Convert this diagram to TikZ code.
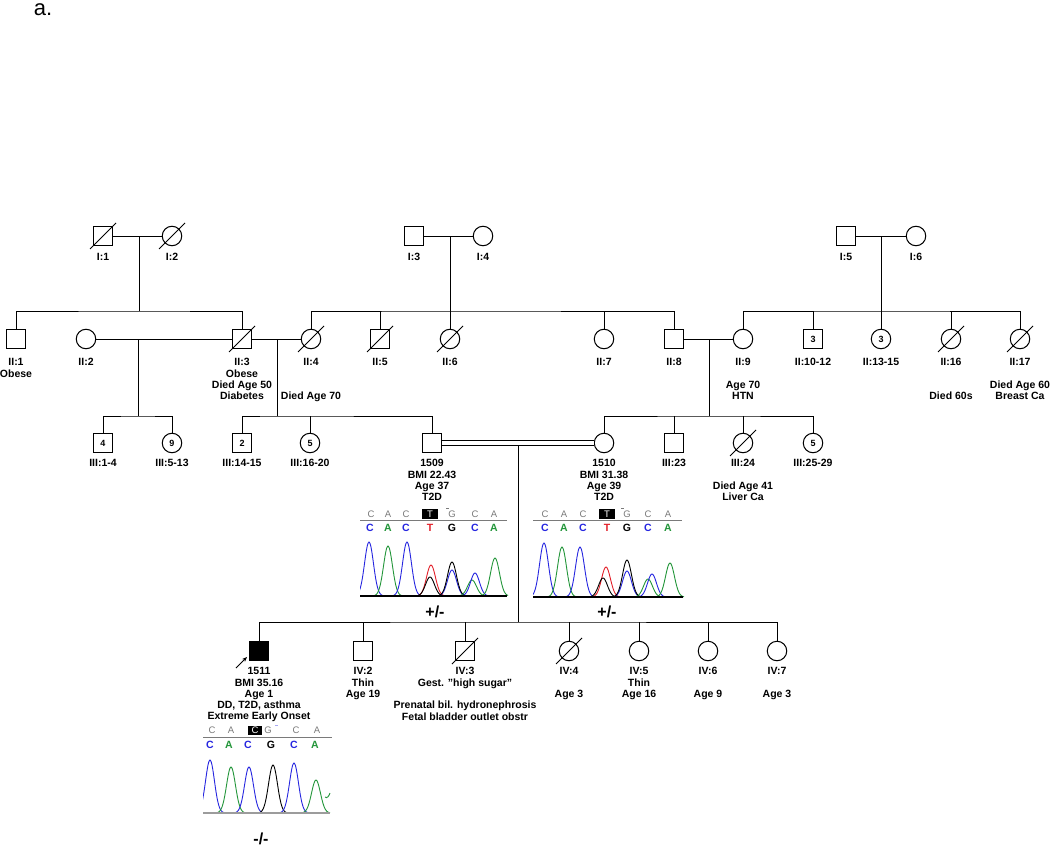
\documentclass[tikz,border=0pt]{standalone}
\usepackage{fontspec}
\setmainfont{Liberation Sans}
\usetikzlibrary{arrows.meta, calc}
\definecolor{basblue}{HTML}{2626E0}
\definecolor{basgreen}{HTML}{23963A}
\definecolor{basred}{HTML}{E3202A}
\definecolor{seqgray}{HTML}{7A7A7A}
\definecolor{tracegray}{HTML}{9C9C9C}

% slash through a deceased individual
\newcommand{\deceased}[1]{\draw ($(#1.center)+(-13,13)$) -- ($(#1.center)+(13,-13)$);}
% one chromatogram peak: centre, baseline, height, colour
\newcommand{\trpeak}[4]{\draw[#4, line width=0.9pt] plot[domain=#1-14:#1+14, samples=29, smooth] (\x, {#2-#3*exp(-(((\x-#1)/6.3)^2))});}

\begin{document}
\begin{tikzpicture}[x=1pt, y=-1pt, line width=1pt,
  male/.style={draw, rectangle, minimum size=19pt, inner sep=0pt, font=\fontsize{9}{9}\selectfont\bfseries},
  female/.style={draw, circle, minimum size=19.5pt, inner sep=0pt, font=\fontsize{9}{9}\selectfont\bfseries},
  lbl/.style={font=\fontsize{10.5}{11.3}\selectfont\bfseries, align=center, anchor=north, inner sep=0pt},
  seqtop/.style={font=\fontsize{9.5}{9.5}\selectfont, text=seqgray, inner sep=0pt},
  seqbase/.style={font=\fontsize{10.5}{10.5}\selectfont\bfseries, inner sep=0pt},
  geno/.style={font=\fontsize{16}{16}\selectfont\bfseries, inner sep=0pt},
  >={Stealth[length=5pt, width=4pt]}]

% Background
\fill[white] (0,0) rectangle (1050,848);
\useasboundingbox (0,0) rectangle (1050,848);

% Panel letter
\node (panel) at (43,10) {\fontsize{22}{22}\selectfont a.};

% Generation I
\node[male] (i1) at (103,236) {};
\node[female] (i2) at (172,236) {};
\node[male] (i3) at (414,236) {};
\node[female] (i4) at (483,236) {};
\node[male] (i5) at (846,236) {};
\node[female] (i6) at (916,236) {};
\deceased{i1} \deceased{i2}
\foreach \n/\t in {i1/I:1, i2/I:2, i3/I:3, i4/I:4, i5/I:5, i6/I:6}
  \node[lbl] (lab\n) at ($(\n)+(0,17)$) {\t};

% Generation II
\node[male] (ii1) at (16,339) {};
\node[female] (ii2) at (86,339) {};
\node[male] (ii3) at (242,339) {};
\node[female] (ii4) at (311,339) {};
\node[male] (ii5) at (380,339) {};
\node[female] (ii6) at (450,339) {};
\node[female] (ii7) at (604,339) {};
\node[male] (ii8) at (674,339) {};
\node[female] (ii9) at (743,339) {};
\node[male] (ii10) at (813,339) {3};
\node[female] (ii13) at (881,339) {3};
\node[female] (ii16) at (951,339) {};
\node[female] (ii17) at (1020,339) {};
\deceased{ii3} \deceased{ii4} \deceased{ii5} \deceased{ii6} \deceased{ii16} \deceased{ii17}

\node[lbl] (labii1) at (16,358) {II:1\\Obese};
\node[lbl] (labii2) at (86,358) {II:2};
\node[lbl] (labii3) at (242,358) {II:3\\Obese\\Died Age 50\\Diabetes};
\node[lbl] (labii4) at (311,358) {II:4\\[22.6pt]Died Age 70};
\node[lbl] (labii5) at (380,358) {II:5};
\node[lbl] (labii6) at (450,358) {II:6};
\node[lbl] (labii7) at (604,358) {II:7};
\node[lbl] (labii8) at (674,358) {II:8};
\node[lbl] (labii9) at (743,358) {II:9\\[11.3pt]Age 70\\HTN};
\node[lbl] (labii10) at (813,358) {II:10-12};
\node[lbl] (labii13) at (881,358) {II:13-15};
\node[lbl] (labii16) at (951,358) {II:16\\[22.6pt]Died 60s};
\node[lbl] (labii17) at (1020,358) {II:17\\[11.3pt]Died Age 60\\Breast Ca};

% Matings I and sibships II
\coordinate (m12) at (139,236);
\coordinate (m34) at (450,236);
\coordinate (m56) at (881,236);
\coordinate (sib1) at (139,311);
\coordinate (sib2) at (450,311);
\coordinate (sib3) at (881,311);
\draw (i1) -- (i2);
\draw (i3) -- (i4);
\draw (i5) -- (i6);
\draw (m12) -- (sib1);
\draw (m34) -- (sib2);
\draw (m56) -- (sib3);
\draw (ii1) |- (sib1) -| (ii3);
\draw (ii4) |- (sib2) -| (ii8);
\foreach \c in {ii5, ii6, ii7}
  \draw (\c) -- (\c |- sib2);
\draw (ii9) |- (sib3) -| (ii17);
\foreach \c in {ii10, ii13, ii16}
  \draw (\c) -- (\c |- sib3);

% Generation III
\node[male] (iii1) at (103,443) {4};
\node[female] (iii5) at (172,443) {9};
\node[male] (iii14) at (242,443) {2};
\node[female] (iii16) at (310,443) {5};
\node[male] (p1509) at (432,443) {};
\node[female] (p1510) at (604,443) {};
\node[male] (iii23) at (674,443) {};
\node[female] (iii24) at (743,443) {};
\node[female] (iii25) at (813,443) {5};
\deceased{iii24}

\node[lbl] (labiii1) at (103,459) {III:1-4};
\node[lbl] (labiii5) at (172,459) {III:5-13};
\node[lbl] (labiii14) at (242,459) {III:14-15};
\node[lbl] (labiii16) at (310,459) {III:16-20};
\node[lbl] (lab1509) at (432,459) {1509\\BMI 22.43\\Age 37\\T2D};
\node[lbl] (lab1510) at (604,459) {1510\\BMI 31.38\\Age 39\\T2D};
\node[lbl] (labiii23) at (674,459) {III:23};
\node[lbl] (labiii24) at (743,459) {III:24\\[11.3pt]Died Age 41\\Liver Ca};
\node[lbl] (labiii25) at (813,459) {III:25-29};

% Matings II and sibships III
\coordinate (m23) at (138,339);
\coordinate (m34b) at (277,339);
\coordinate (m89) at (709,339);
\coordinate (sib4) at (138,416);
\coordinate (sib5) at (277,416);
\coordinate (sib6) at (709,416);
\draw (ii2) -- (ii3);
\draw (ii3) -- (ii4);
\draw (ii8) -- (ii9);
\draw (m23) -- (sib4);
\draw (m34b) -- (sib5);
\draw (m89) -- (sib6);
\draw (iii1) |- (sib4) -| (iii5);
\draw (iii14) |- (sib5) -| (p1509);
\draw (iii16) -- (iii16 |- sib5);
\draw (p1510) |- (sib6) -| (iii25);
\foreach \c in {iii23, iii24}
  \draw (\c) -- (\c |- sib6);

% Consanguineous mating and sibship IV
\draw[double, double distance=3.5pt] (p1509) -- (p1510);
\coordinate (mc) at (518,446);
\coordinate (sib7) at (518,622);
\draw (mc) -- (sib7);

% Generation IV
\node[male, fill=black] (iv1) at (259,651) {};
\node[male] (iv2) at (363,651) {};
\node[male] (iv3) at (465,651) {};
\node[female] (iv4) at (569,651) {};
\node[female] (iv5) at (639,651) {};
\node[female] (iv6) at (708,651) {};
\node[female] (iv7) at (777,651) {};
\deceased{iv3} \deceased{iv4}
\draw (iv1) |- (sib7) -| (iv7);
\foreach \c in {iv2, iv3, iv4, iv5, iv6}
  \draw (\c) -- (\c |- sib7);

% Proband arrow
\coordinate (arrtail) at (236,668);
\draw[->, line width=0.9pt] (arrtail) -- ([shift={(-2,-4)}]iv1.south west);

\node[lbl] (lab1511) at (259,667) {1511\\BMI 35.16\\Age 1\\DD, T2D, asthma\\Extreme Early Onset};
\node[lbl] (labiv2) at (363,667) {IV:2\\Thin\\Age 19};
\node[lbl] (labiv3) at (465,667) {IV:3\\Gest. "high sugar"\\[11.3pt]Prenatal bil. hydronephrosis\\Fetal bladder outlet obstr};
\node[lbl] (labiv4) at (569,667) {IV:4\\[11.3pt]Age 3};
\node[lbl] (labiv5) at (639,667) {IV:5\\Thin\\Age 16};
\node[lbl] (labiv6) at (708,667) {IV:6\\[11.3pt]Age 9};
\node[lbl] (labiv7) at (777,667) {IV:7\\[11.3pt]Age 3};

% Chromatogram of 1509
\foreach \b/\p in {C/371, A/388, C/406, G/452, C/475, A/494}
  \node[seqtop] (ra\p) at (\p,514) {\b};
\node[seqtop, fill=black, text=white, minimum width=16pt, minimum height=10pt] (boxa) at (430,514) {T};
\draw[seqgray, line width=0.6pt] (446,508) -- (449,508);
\draw[seqgray, line width=0.8pt] (360,520) -- (507,520);
\foreach \b/\p/\cc in {C/370/basblue, A/388/basgreen, C/406/basblue, T/430/basred, G/452/black, C/475/basblue, A/494/basgreen}
  \node[seqbase, text=\cc] (ca\p) at (\p,528) {\b};
\begin{scope}
\clip (360,530) rectangle (508,600);
\foreach \c/\h/\cc in {369/54/basblue, 388/50/basgreen, 407/54/basblue, 431/31/basred, 430/19/black, 452/26/basblue, 452/34/black, 472/16/basgreen, 475/23/basblue, 495/38/basgreen}
  {\trpeak{\c}{596}{\h}{\cc}}
\end{scope}
\draw[line width=1.6pt] (360,596) -- (507,596);
\node[geno] (gta) at (435,612) {+/-};

% Chromatogram of 1510
\foreach \b/\p in {C/545, A/564, C/583, G/627, C/648, A/668}
  \node[seqtop] (rb\p) at (\p,514) {\b};
\node[seqtop, fill=black, text=white, minimum width=16pt, minimum height=10pt] (boxb) at (607,514) {T};
\draw[seqgray, line width=0.6pt] (621,508) -- (624,508);
\draw[seqgray, line width=0.8pt] (533,520) -- (682,520);
\foreach \b/\p/\cc in {C/545/basblue, A/564/basgreen, C/583/basblue, T/607/basred, G/627/black, C/648/basblue, A/668/basgreen}
  \node[seqbase, text=\cc] (cb\p) at (\p,528) {\b};
\begin{scope}
\clip (533,530) rectangle (684,600);
\foreach \c/\h/\cc in {544/54/basblue, 562/50/basgreen, 580/50/basblue, 606/30/basred, 603/19/black, 627/26/basblue, 627/37/black, 648/18/basgreen, 652/23/basblue, 670/34/basgreen}
  {\trpeak{\c}{597}{\h}{\cc}}
\end{scope}
\draw[line width=1.6pt] (533,597) -- (683,597);
\node[geno] (gtb) at (607,612) {+/-};

% Chromatogram of 1511
\foreach \b/\p in {C/212, A/231, G/268, C/296, A/317}
  \node[seqtop] (rc\p) at (\p,730) {\b};
\node[seqtop, fill=black, text=white, minimum width=14pt, minimum height=9pt] (boxc) at (255,730) {C};
\draw[basblue!40, line width=0.6pt] (275,725) -- (278,725);
\draw[seqgray, line width=0.8pt] (203,737) -- (332,737);
\foreach \b/\p/\cc in {C/210/basblue, A/229/basgreen, C/248/basblue, G/271/black, C/294/basblue, A/315/basgreen}
  \node[seqbase, text=\cc] (cc\p) at (\p,745) {\b};
\begin{scope}
\clip (203,750) rectangle (332,816);
\foreach \c/\h/\cc in {210/53/basblue, 231/46/basgreen, 249/46/basblue, 273/48/black, 294/50/basblue, 316/33/basgreen}
  {\trpeak{\c}{813}{\h}{\cc}}
\end{scope}
\draw[basgreen, line width=0.9pt] (325,797) .. controls (327,799) and (329,796) .. (330,793);
\draw[tracegray, line width=1.4pt] (203,813) -- (330,813);
\node[geno] (gtc) at (261,839) {-/-};

\end{tikzpicture}
\end{document}
